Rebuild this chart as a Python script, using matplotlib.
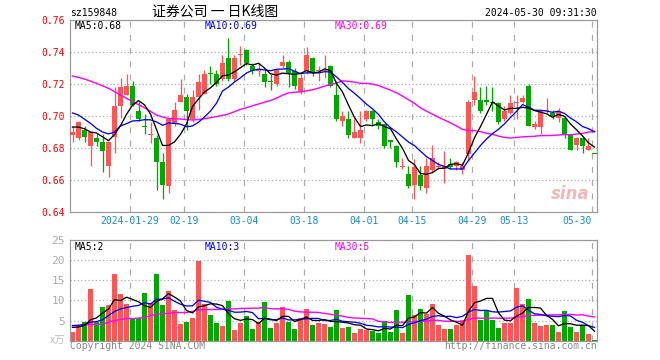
import numpy as np
import pandas as pd
import matplotlib
matplotlib.use('Agg')
import matplotlib.pyplot as plt

# ---------------- data ----------------
tick_idx = [10, 19, 29, 39, 49, 57, 67, 74, 87]
tick_labels = ['2024-01-29', '02-19', '03-04', '03-18', '04-01', '04-15', '04-29', '05-13', '05-30']

opens = [0.688, 0.686, 0.691, 0.681, 0.686, 0.684, 0.669, 0.687, 0.706, 0.713,
         0.719, 0.703, 0.694, 0.688, 0.686, 0.671, 0.656, 0.695, 0.709, 0.712,
         0.698, 0.712, 0.714, 0.727, 0.726, 0.723, 0.736, 0.723, 0.738, 0.741,
         0.731, 0.728, 0.726, 0.722, 0.720, 0.731, 0.734, 0.728, 0.715, 0.728,
         0.736, 0.728, 0.728, 0.731, 0.713, 0.697, 0.698, 0.686, 0.686, 0.698,
         0.703, 0.696, 0.695, 0.685, 0.681, 0.668, 0.664, 0.657, 0.663, 0.655,
         0.666, 0.668, 0.667, 0.670, 0.669, 0.666, 0.676, 0.710, 0.710, 0.710,
         0.709, 0.708, 0.698, 0.702, 0.708, 0.709, 0.719, 0.693, 0.693, 0.703,
         0.702, 0.699, 0.699, 0.688, 0.682, 0.686, 0.679, 0.676]
highs = [0.694, 0.697, 0.694, 0.690, 0.689, 0.689, 0.684, 0.718, 0.724, 0.726,
         0.722, 0.709, 0.701, 0.696, 0.688, 0.677, 0.699, 0.709, 0.723, 0.714,
         0.716, 0.726, 0.729, 0.731, 0.729, 0.738, 0.749, 0.738, 0.744, 0.742,
         0.733, 0.733, 0.729, 0.726, 0.729, 0.738, 0.735, 0.730, 0.726, 0.743,
         0.737, 0.731, 0.738, 0.732, 0.722, 0.703, 0.703, 0.698, 0.703, 0.704,
         0.704, 0.698, 0.695, 0.685, 0.682, 0.674, 0.669, 0.673, 0.669, 0.674,
         0.682, 0.671, 0.678, 0.674, 0.672, 0.671, 0.710, 0.725, 0.718, 0.719,
         0.718, 0.709, 0.706, 0.713, 0.713, 0.713, 0.720, 0.697, 0.704, 0.711,
         0.704, 0.705, 0.700, 0.689, 0.687, 0.687, 0.686, 0.676]
lows = [0.684, 0.685, 0.684, 0.669, 0.681, 0.665, 0.662, 0.677, 0.699, 0.713,
        0.706, 0.697, 0.689, 0.683, 0.654, 0.648, 0.652, 0.694, 0.709, 0.691,
        0.696, 0.704, 0.714, 0.720, 0.719, 0.722, 0.722, 0.722, 0.732, 0.732,
        0.726, 0.725, 0.718, 0.716, 0.719, 0.730, 0.718, 0.717, 0.714, 0.726,
        0.725, 0.722, 0.724, 0.718, 0.697, 0.694, 0.686, 0.686, 0.683, 0.697,
        0.694, 0.692, 0.680, 0.680, 0.668, 0.667, 0.655, 0.648, 0.654, 0.652,
        0.665, 0.667, 0.658, 0.667, 0.666, 0.664, 0.672, 0.707, 0.702, 0.707,
        0.703, 0.695, 0.697, 0.701, 0.698, 0.708, 0.694, 0.692, 0.689, 0.702,
        0.698, 0.696, 0.686, 0.679, 0.679, 0.677, 0.679, 0.676]
closes = [0.690, 0.696, 0.687, 0.690, 0.684, 0.678, 0.684, 0.706, 0.718, 0.719,
          0.707, 0.698, 0.693, 0.689, 0.671, 0.657, 0.698, 0.704, 0.713, 0.703,
          0.712, 0.721, 0.726, 0.726, 0.720, 0.733, 0.723, 0.736, 0.739, 0.733,
          0.728, 0.729, 0.721, 0.721, 0.729, 0.734, 0.727, 0.719, 0.724, 0.738,
          0.727, 0.729, 0.729, 0.719, 0.698, 0.700, 0.688, 0.690, 0.691, 0.703,
          0.698, 0.694, 0.681, 0.684, 0.671, 0.669, 0.656, 0.668, 0.656, 0.669,
          0.674, 0.669, 0.669, 0.668, 0.671, 0.669, 0.709, 0.715, 0.703, 0.709,
          0.708, 0.696, 0.703, 0.708, 0.709, 0.711, 0.694, 0.695, 0.703, 0.704,
          0.700, 0.703, 0.689, 0.679, 0.686, 0.681, 0.681, 0.676]
volumes = [2.25, 3.75, 4.75, 12.75, 4.75, 8.25, 8.75, 16.5, 11.5, 9.0,
           5.5, 5.75, 11.75, 9.25, 16.5, 8.75, 12.25, 7.5, 4.25, 4.75,
           5.75, 19.75, 9.0, 6.5, 4.5, 3.75, 9.75, 2.75, 4.5, 6.25,
           3.0, 4.75, 9.5, 3.25, 4.5, 8.25, 4.75, 3.0, 5.75, 7.75,
           4.0, 4.5, 4.25, 3.5, 7.5, 3.25, 3.5, 2.0, 3.0, 2.75,
           2.5, 2.0, 5.0, 2.25, 7.5, 2.0, 11.25, 6.5, 7.75, 6.75,
           9.0, 4.0, 3.0, 3.0, 4.0, 5.25, 21.25, 13.5, 5.25, 7.25,
           5.25, 3.25, 4.5, 4.5, 13.0, 9.0, 10.25, 4.5, 3.75, 4.0,
           4.0, 2.25, 7.25, 3.5, 2.25, 4.0, 1.75, 0.25]

# moving-average values before a full window exists
ma5_head = [0.6931, 0.6931, 0.6920, 0.6900]
ma10_head = [0.7019, 0.7006, 0.6980, 0.6954, 0.6923, 0.6900, 0.6888, 0.6900, 0.6938]
ma30_head = [0.7250, 0.7241, 0.7231, 0.7218, 0.7204, 0.7189, 0.7173, 0.7153, 0.7131, 0.7110,
             0.7090, 0.7071, 0.7052, 0.7029, 0.7006, 0.6994, 0.6985, 0.6983, 0.6981, 0.6978,
             0.6975, 0.6978, 0.6983, 0.6990, 0.6996, 0.7004, 0.7013, 0.7027, 0.7042]
vma5_head = [3.3, 3.4, 3.8, 5.2]
vma10_head = [3.75, 3.8, 4.0, 4.6, 4.75, 5.2, 6.25, 7.25, 7.9]
vma30_head = [3.75, 3.8, 3.9, 4.0, 4.1, 4.1, 4.6, 5.0, 5.25, 5.5,
              5.5, 5.6, 5.75, 6.25, 6.5, 6.7, 6.8, 7.0, 7.0, 7.0,
              7.25, 7.7, 7.7, 7.75, 7.75, 7.8, 7.9, 7.9, 8.0]

# ---------------- helpers ----------------
def moving(values, n, head):
    s = pd.Series(values, dtype=float).rolling(n).mean().to_numpy()
    s[:len(head)] = head
    return s

o = np.array(opens); h = np.array(highs); l = np.array(lows); c = np.array(closes)
v = np.array(volumes)
n = len(c)
x = np.arange(n)

RED = '#ff5555'
GREEN = '#00a800'
prev = np.concatenate([[c[0]], c[:-1]])
up = np.where(c > o, True, np.where(c < o, False, c >= prev))
cols = np.where(up, RED, GREEN)

ma5 = moving(c, 5, ma5_head)
ma10 = moving(c, 10, ma10_head)
ma30 = moving(c, 30, ma30_head)
vma5 = moving(v, 5, vma5_head)
vma10 = moving(v, 10, vma10_head)
vma30 = moving(v, 30, vma30_head)

MONO = 'DejaVu Sans Mono'
FS = 7
W, H = 660, 360
PX = 0.72  # one pixel in points at 100 dpi

fig = plt.figure(figsize=(6.6, 3.6), dpi=100)
fig.patch.set_facecolor('white')

def ftext(px, py, s, **kw):
    kw.setdefault('family', MONO)
    kw.setdefault('fontsize', FS)
    fig.text(px / W, 1 - py / H, s, **kw)

left = 70 / W
width = 527 / W
ax1 = fig.add_axes([left, (H - 212) / H, width, 192 / H])
ax2 = fig.add_axes([left, (H - 340.7) / H, width, 100.7 / H])

xmin, xmax = -2.5 / 6, (597 - 72.5) / 6
grid_x = [i - 2.5 / 6 for i in tick_idx]
bw = 5 / 6

for ax in (ax1, ax2):
    ax.set_xlim(xmin, xmax)
    for sp in ax.spines.values():
        sp.set_color('#999999')
        sp.set_linewidth(PX * 1.2)
    ax.set_axisbelow(True)
    ax.set_xticks(grid_x)
    ax.xaxis.grid(True, color='#aaaaaa', linestyle=(0, (5, 6)), linewidth=PX * 1.2)
    ax.yaxis.grid(True, color='#aaaaaa', linestyle=(0, (1, 2)), linewidth=PX * 1.2)
    ax.tick_params(length=0)

# ---------------- price panel ----------------
body_lo = np.minimum(o, c)
body_h = np.maximum(np.abs(c - o), 0.0006)
ax1.vlines(x, l, h, colors=cols, linewidth=PX * 1.3, zorder=2)
ax1.bar(x, body_h, bottom=body_lo, width=bw, color=cols, linewidth=0, zorder=3)
ax1.plot(x, ma30, color='#ff00ff', linewidth=PX * 1.4, zorder=4)
ax1.plot(x, ma10, color='#0000ff', linewidth=PX * 1.3, zorder=5)
ax1.plot(x, ma5, color='black', linewidth=PX * 1.3, zorder=6)
ax1.set_ylim(0.64, 0.76)
yt = np.round(np.arange(0.64, 0.7601, 0.02), 2)
ax1.set_yticks(yt)
ax1.set_yticklabels(['%.2f' % t for t in yt], color='#ff0000', family=MONO, fontsize=FS)
ax1.tick_params(axis='y', pad=3.6)
ax1.set_xticklabels(tick_labels, color='#1a8ad4', family=MONO, fontsize=FS)
ax1.tick_params(axis='x', pad=3.2)
lbls = ax1.get_xticklabels()
lbls[-1].set_ha('right')

# sina watermark
ax1.text(0.985, 0.045, 'sina', transform=ax1.transAxes, ha='right', va='bottom',
         fontsize=12, fontweight='bold', fontstyle='italic', color='#f2b8b8',
         family='DejaVu Sans', zorder=1)

# ---------------- volume panel ----------------
ax2.bar(x, v, width=bw, color=cols, linewidth=0, zorder=2)
ax2.plot(x, vma30, color='#ff00ff', linewidth=PX * 1.4, zorder=3)
ax2.plot(x, vma10, color='#0000ff', linewidth=PX * 1.3, zorder=4)
ax2.plot(x, vma5, color='black', linewidth=PX * 1.3, zorder=5)
ax2.set_ylim(0, 25)
vt = [5, 10, 15, 20, 25]
ax2.set_yticks(vt)
ax2.set_yticklabels([str(t) for t in vt], color='#aaaaaa', family=MONO, fontsize=FS + 1)
ax2.tick_params(axis='y', pad=3.6)
ax2.set_xticklabels([])

# ---------------- texts ----------------
ftext(70, 13, 'sz159848', ha='left', va='center', color='black')
ftext(152, 11.5, '证券公司 一 日K线图', ha='left', va='center', color='black',
      family=['Noto Sans CJK SC', 'DejaVu Sans'], fontsize=10)
ftext(597, 13, '2024-05-30 09:31:30', ha='right', va='center', color='black')

ftext(75, 26, 'MA5:%.2f' % ma5[-1], ha='left', va='center', color='black')
ftext(205, 26, 'MA10:%.2f' % ma10[-1], ha='left', va='center', color='#0000ff')
ftext(334.5, 26, 'MA30:%.2f' % ma30[-1], ha='left', va='center', color='#ff00ff')

ftext(75, 246.5, 'MA5:%d' % int(vma5[-1]), ha='left', va='center', color='black')
ftext(205, 246.5, 'MA10:%d' % int(vma10[-1]), ha='left', va='center', color='#0000ff')
ftext(334.5, 246.5, 'MA30:%d' % int(vma30[-1]), ha='left', va='center', color='#ff00ff')

ftext(70, 346, 'Copyright 2024 SINA.COM', ha='left', va='center', color='#888888')
ftext(597, 346, 'http://finance.sina.com.cn', ha='right', va='center', color='#888888')
ftext(65, 341, 'x万', ha='right', va='center', color='#bbbbbb',
      family=['Noto Sans CJK SC', 'DejaVu Sans'], fontsize=7.5)

fig.savefig('out.png', dpi=100, facecolor='white')
